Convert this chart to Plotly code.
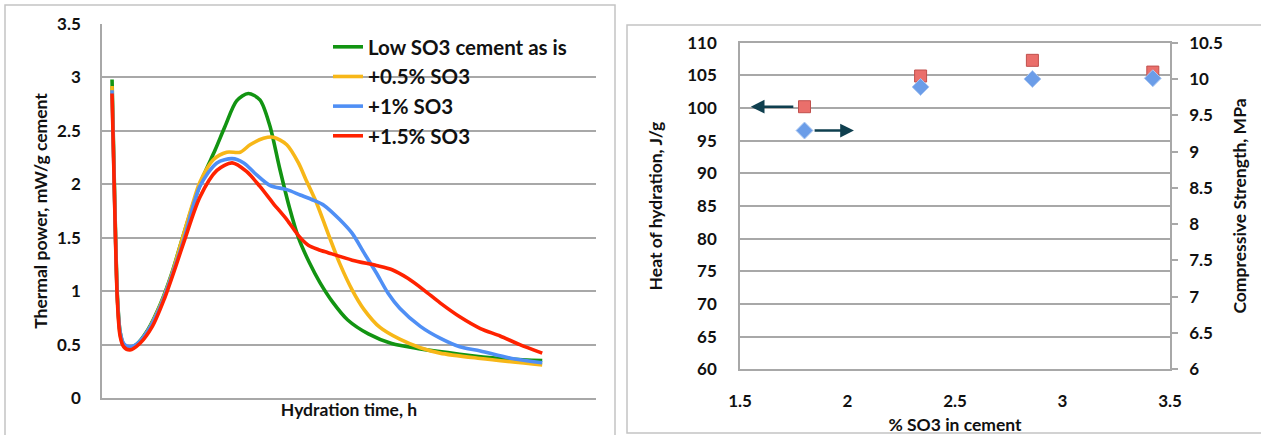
import plotly.graph_objects as go

# ---------------- data: left chart (thermal power) ----------------
series_names = ["Low SO3 cement as is", "+0.5% SO3", "+1% SO3", "+1.5% SO3"]
series_colors = ["#129412", "#f7b718", "#4f8ff5", "#ff2200"]

green_h = [0, 0.3, 0.6, 0.9, 1.3, 1.9, 2.7, 4.0, 5.4, 6.6, 7.8, 9.0, 10.2, 11.5, 12.6, 13.9, 15.2, 16.5, 17.6, 18.7, 19.8, 20.8, 22.0, 23.2, 24.6, 26.3, 28.6, 31.2, 34.4, 38.8, 43.3, 48]
green_p = [2.98, 1.85, 0.95, 0.62, 0.50, 0.47, 0.50, 0.64, 0.88, 1.15, 1.48, 1.80, 2.08, 2.32, 2.54, 2.78, 2.85, 2.79, 2.55, 2.15, 1.78, 1.50, 1.27, 1.08, 0.90, 0.73, 0.60, 0.51, 0.46, 0.41, 0.37, 0.35]

yellow_h = [0, 0.3, 0.6, 0.9, 1.3, 1.9, 2.7, 4.0, 5.4, 6.6, 7.8, 9.0, 9.8, 11.3, 12.8, 14.3, 15.4, 16.9, 18.0, 19.5, 20.8, 21.6, 22.8, 24.1, 25.4, 26.8, 28.1, 29.9, 32.1, 34.4, 36.6, 41.1, 48]
yellow_p = [2.92, 1.82, 0.93, 0.60, 0.49, 0.46, 0.49, 0.63, 0.87, 1.14, 1.48, 1.82, 2.02, 2.23, 2.30, 2.30, 2.37, 2.43, 2.44, 2.37, 2.20, 2.05, 1.83, 1.54, 1.26, 1.01, 0.83, 0.66, 0.55, 0.47, 0.42, 0.37, 0.31]

blue_h = [0, 0.3, 0.6, 0.9, 1.3, 1.9, 2.7, 4.0, 5.4, 6.6, 8.0, 9.8, 11.7, 13.4, 14.7, 16.1, 17.6, 19.5, 21.0, 22.5, 23.7, 25.4, 26.8, 28.1, 29.5, 30.8, 32.1, 34.4, 36.6, 38.8, 41.1, 44.6, 48]
blue_p = [2.88, 1.80, 0.93, 0.62, 0.51, 0.48, 0.50, 0.63, 0.86, 1.13, 1.48, 1.98, 2.20, 2.24, 2.20, 2.09, 1.99, 1.95, 1.90, 1.85, 1.80, 1.67, 1.54, 1.36, 1.17, 0.98, 0.84, 0.67, 0.56, 0.48, 0.44, 0.37, 0.33]

red_h = [0, 0.3, 0.6, 0.9, 1.3, 2.0, 3.1, 4.5, 5.8, 7.1, 8.1, 9.8, 11.7, 13.4, 15.0, 16.5, 18.0, 19.5, 20.8, 21.9, 23.0, 24.1, 26.8, 29.5, 31.25, 33.0, 34.8, 36.6, 38.8, 41.1, 43.3, 45.5, 48]
red_p = [2.85, 1.78, 0.90, 0.58, 0.48, 0.45, 0.51, 0.67, 0.92, 1.23, 1.48, 1.88, 2.13, 2.20, 2.12, 1.98, 1.82, 1.67, 1.52, 1.43, 1.39, 1.36, 1.29, 1.24, 1.20, 1.12, 1.01, 0.89, 0.76, 0.65, 0.58, 0.50, 0.42]

left_y_ticks = [0, 0.5, 1, 1.5, 2, 2.5, 3, 3.5]

# ---------------- data: right chart ----------------
so3_pct = [1.8, 2.34, 2.86, 3.42]
heat_jg = [100.2, 104.9, 107.3, 105.5]
strength_mpa = [9.29, 9.89, 10.0, 10.01]
heat_ticks = [60, 65, 70, 75, 80, 85, 90, 95, 100, 105, 110]
strength_ticks = [6, 6.5, 7, 7.5, 8, 8.5, 9, 9.5, 10, 10.5]
so3_ticks = [1.5, 2, 2.5, 3, 3.5]
# arrows: [x_tail, x_head, y]
arrow_heat = [1.755, 1.55, 100.2]
arrow_strength = [1.84, 2.03, 9.29]

W, H = 1261, 435
FONT = "Lato"
TXT = "#111111"
GRID = "#a8a8a8"

fig = go.Figure()

all_h = [green_h, yellow_h, blue_h, red_h]
all_p = [green_p, yellow_p, blue_p, red_p]
for name, col, hh, pp in zip(series_names, series_colors, all_h, all_p):
    fig.add_trace(go.Scatter(
        x=hh, y=pp, name=name, mode="lines",
        line=dict(color=col, width=3.6, shape="spline", smoothing=0.8),
        xaxis="x", yaxis="y"))

fig.add_trace(go.Scatter(
    x=so3_pct, y=heat_jg, mode="markers", name="Heat", showlegend=False,
    marker=dict(symbol="square", size=12, color="#ea6f6b", line=dict(color="#c0504d", width=1)),
    xaxis="x2", yaxis="y2"))
fig.add_trace(go.Scatter(
    x=so3_pct, y=strength_mpa, mode="markers", name="Strength", showlegend=False,
    marker=dict(symbol="diamond", size=13, color="#6b9de8", line=dict(color="#a9c6f2", width=1)),
    xaxis="x2", yaxis="y3"))

tickf = dict(family=FONT, size=17, color=TXT, weight=700)
titlef = dict(family=FONT, size=17.5, color=TXT, weight=700)

fig.update_layout(
    width=W, height=H, autosize=False,
    margin=dict(l=0, r=0, t=0, b=0, autoexpand=False),
    paper_bgcolor="white", plot_bgcolor="rgba(0,0,0,0)",
    font=dict(family=FONT, color=TXT),
    showlegend=True,
    legend=dict(x=328 / W, y=1 - 27 / H, xanchor="left", yanchor="top",
                font=dict(family=FONT, size=20.5, color=TXT, weight=700),
                bgcolor="rgba(0,0,0,0)", itemwidth=30, borderwidth=0),
    xaxis=dict(domain=[102 / W, 596 / W], range=[-1.12, 54.0], anchor="y", automargin=False,
               showticklabels=False, ticks="", showgrid=False, zeroline=False,
               showline=True, linecolor=GRID, linewidth=1.5,
               title=dict(text="Hydration time, h", font=titlef, standoff=5)),
    yaxis=dict(domain=[1 - 398 / H, 1 - 24 / H], range=[0, 3.5], anchor="x", automargin=False,
               tickvals=left_y_ticks, tickfont=tickf, ticks="", ticklabelstandoff=16,
               showgrid=True, gridcolor=GRID, gridwidth=1.5, zeroline=False,
               showline=True, linecolor=GRID, linewidth=1.5,
               title=dict(text="Thermal power, mW/g cement", font=titlef, standoff=5)),
    xaxis2=dict(domain=[740 / W, 1170 / W], range=[1.5, 3.5], anchor="y2", automargin=False,
                tickvals=so3_ticks, tickfont=tickf, ticks="", ticklabelstandoff=16,
                showgrid=False, zeroline=False, showline=True, mirror=True,
                linecolor=GRID, linewidth=1.5,
                title=dict(text="% SO3 in cement", font=titlef, standoff=8)),
    yaxis2=dict(domain=[1 - 369.3 / H, 1 - 42.7 / H], range=[60, 110], anchor="x2", automargin=False,
                tickvals=heat_ticks, tickfont=tickf, ticks="", ticklabelstandoff=18,
                showgrid=True, gridcolor=GRID, gridwidth=1.5, zeroline=False,
                showline=True, linecolor=GRID, linewidth=1.5,
                title=dict(text="Heat of hydration, J/g", font=titlef, standoff=20)),
    yaxis3=dict(overlaying="y2", side="right", anchor="x2", range=[6, 10.5], automargin=False,
                tickvals=strength_ticks, tickfont=tickf, ticks="outside", ticklen=6,
                tickcolor=GRID, tickwidth=1.5, ticklabelstandoff=8,
                showgrid=False, zeroline=False, showline=True, linecolor=GRID, linewidth=1.5,
                title=dict(text="Compressive Strength, MPa", font=titlef, standoff=12)),
)

# outer chart borders
fig.add_shape(type="rect", xref="paper", yref="paper",
              x0=5 / W, x1=615 / W, y0=-10 / H, y1=1 - 5 / H,
              line=dict(color="#c4c4c4", width=1.5), fillcolor="rgba(0,0,0,0)", layer="below")
fig.add_shape(type="rect", xref="paper", yref="paper",
              x0=627 / W, x1=1275 / W, y0=1 - 433 / H, y1=1 - 25 / H,
              line=dict(color="#c4c4c4", width=1.5), fillcolor="rgba(0,0,0,0)", layer="below")

# arrows
arrow_col = "#0f3f4f"
fig.add_annotation(x=arrow_heat[1], y=arrow_heat[2], ax=arrow_heat[0], ay=arrow_heat[2],
                   xref="x2", yref="y2", axref="x2", ayref="y2", text="", showarrow=True,
                   arrowhead=2, arrowsize=1.1, arrowwidth=2.5, arrowcolor=arrow_col)
fig.add_annotation(x=arrow_strength[1], y=arrow_strength[2], ax=arrow_strength[0], ay=arrow_strength[2],
                   xref="x2", yref="y3", axref="x2", ayref="y3", text="", showarrow=True,
                   arrowhead=2, arrowsize=1.1, arrowwidth=2.5, arrowcolor=arrow_col)

fig.write_html("out.html")
